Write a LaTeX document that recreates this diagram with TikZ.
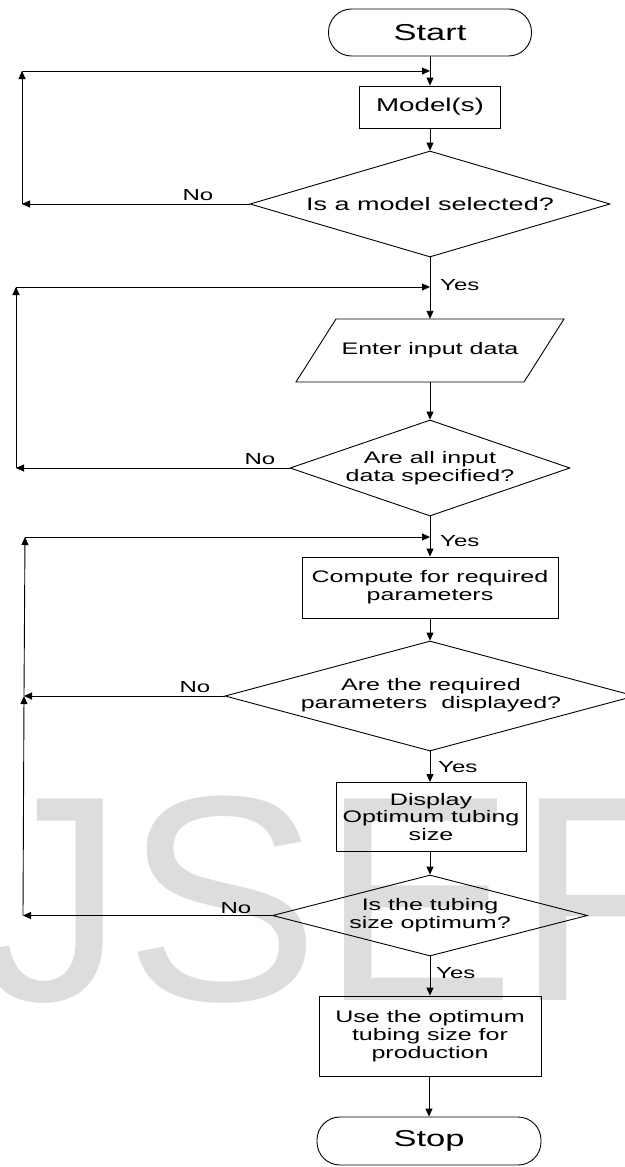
\documentclass[tikz,border=0pt]{standalone}
\usepackage{fontspec}
\setmainfont{Liberation Sans}[FakeStretch=1.5]
\newfontfamily\wmfont{Liberation Sans}
\usetikzlibrary{arrows.meta,shapes.geometric}
\definecolor{wmgray}{RGB}{221,221,221}
\tikzset{
  ln/.style={line width=0.9pt, draw=black},
  arr/.style={ln, -{Triangle[length=8pt,width=7pt]}},
  term/.style={draw, line width=0.9pt, rounded corners=23pt, inner sep=0pt},
  proc/.style={draw, line width=0.9pt, inner sep=0pt, align=center,
               font=\fontsize{16.7}{17.8}\selectfont},
  dec/.style={draw, diamond, line width=0.9pt, inner sep=0pt},
  txt/.style={align=center, inner sep=0pt, font=\fontsize{16.7}{17.8}\selectfont},
  lbl/.style={inner sep=0pt, font=\fontsize{16}{17}\selectfont},
}
\begin{document}
\begin{tikzpicture}[x=1pt,y=-1pt]
\useasboundingbox (0,0) rectangle (624,1167);
% watermark
\begin{scope}
\clip (0,0) rectangle (624,1167);
\node[text=wmgray, anchor=base west, inner sep=0pt,
      font=\wmfont\fontsize{293}{293}\selectfont] (wm) at (-22,1000) {JSER};
\end{scope}

% main nodes
\node[term, minimum width=203pt, minimum height=47pt,
      font=\fontsize{23}{23}\selectfont] (start) at (430,32.5) {Start};
\node[proc, minimum width=141pt, minimum height=42pt,
      font=\fontsize{18.5}{19}\selectfont] (model) at (430,107) {Model(s)};
\node[dec, minimum width=360pt, minimum height=106pt] (d1) at (430,204) {};
\node[txt, font=\fontsize{18}{19}\selectfont] (t1) at (d1) {Is a model selected?};

\node[txt, minimum width=228pt, minimum height=63pt] (par) at (430,350.5) {Enter input data};
\draw[ln] (par.center) ++(-94,-31.5) -- ++(228,0) -- ++(-40,63) -- ++(-228,0) -- cycle;

\node[dec, minimum width=280pt, minimum height=96pt] (d2) at (430,468) {};
\node[txt] (t2) at (d2) {Are all input\\data specified?};

\node[proc, minimum width=256pt, minimum height=61pt] (compute) at (430,587.5)
  {Compute for required\\parameters};

\node[dec, minimum width=410pt, minimum height=110pt] (d3) at (430,696) {};
\node[txt] (t3) at (431,695) {Are the required\\parameters\ \ displayed?};

\node[proc, minimum width=190pt, minimum height=69pt] (display) at (431,817)
  {Display\\Optimum tubing\\size};

\node[dec, minimum width=315pt, minimum height=81pt] (d4) at (430,915.5) {};
\node[txt] (t4) at (d4) {Is the tubing\\size optimum?};

\node[proc, minimum width=222pt, minimum height=80pt] (use) at (430,1036)
  {Use the optimum\\tubing size for\\production};

\node[term, minimum width=224pt, minimum height=48pt,
      font=\fontsize{23}{23}\selectfont] (stop) at (429,1141) {Stop};

% main flow
\draw[arr] (start) -- (model);
\draw[arr] (model) -- (d1);
\draw[arr] (d1) -- (par);
\draw[arr] (par) -- (d2);
\draw[arr] (d2) -- (compute);
\draw[arr] (compute) -- (d3);
\draw[arr] (d3.south) -- (display.north -| d3.south);
\draw[arr] (display.south -| d4.north) -- (d4.north);
\draw[arr] (d4) -- (use);
\draw[arr] (use.south -| stop.north) -- (stop.north);

% feedback loop 1
\coordinate (f1a) at (22,204);
\coordinate (f1b) at (22,71);
\coordinate (j1) at (430,71);
\draw[arr] (d1.west) -- (f1a);
\draw[arr] (f1a) -- (f1b);
\draw[arr] (f1b) -- (j1);

% feedback loop 2
\coordinate (f2a) at (16,468);
\coordinate (f2b) at (16,287);
\coordinate (j2) at (430,287);
\draw[arr] (d2.west) -- (f2a);
\draw[arr] (f2a) -- (f2b);
\draw[arr] (f2b) -- (j2);

% feedback loops 3 and 4
\coordinate (f4a) at (23,915.5);
\coordinate (f3a) at (24,696);
\coordinate (f3b) at (25,537);
\coordinate (j3) at (430,537);
\draw[arr] (d4.west) -- (f4a);
\draw[arr] (f4a) -- (f3a);
\draw[arr] (d3.west) -- (f3a);
\draw[arr] (f3a) -- (f3b);
\draw[arr] (f3b) -- (j3);

% labels
\node[lbl] (no1) at (198,195) {No};
\node[lbl] (no2) at (260,459) {No};
\node[lbl] (no3) at (195,687) {No};
\node[lbl] (no4) at (236,908) {No};
\node[lbl, anchor=west] (yes1) at (440,285) {Yes};
\node[lbl, anchor=west] (yes2) at (440,541) {Yes};
\node[lbl, anchor=west] (yes3) at (438,767) {Yes};
\node[lbl, anchor=west] (yes4) at (436,973) {Yes};
\end{tikzpicture}
\end{document}
